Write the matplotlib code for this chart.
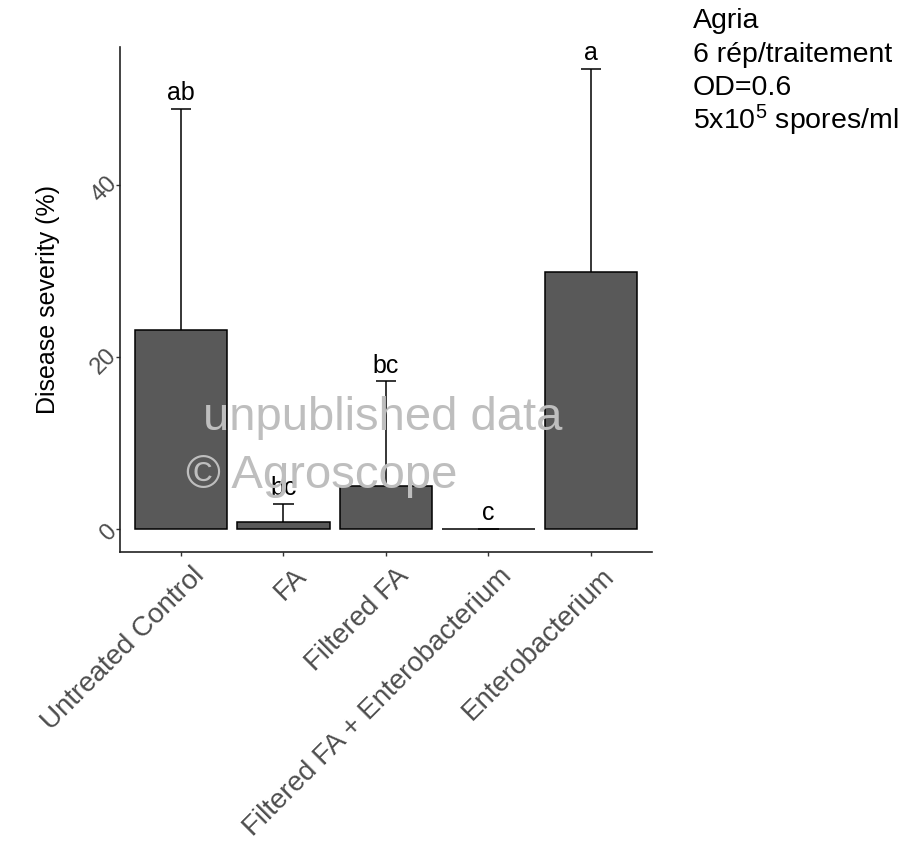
import matplotlib
matplotlib.use("Agg")
import matplotlib.pyplot as plt
import matplotlib.transforms as mtransforms
import numpy as np

matplotlib.rc('font', family='Liberation Sans')
matplotlib.rc('mathtext', fontset='custom', rm='Liberation Sans',
              it='Liberation Sans:italic', bf='Liberation Sans:bold')

## data
treatments = ["Untreated Control", "FA", "Filtered FA",
              "Filtered FA + Enterobacterium", "Enterobacterium"]
severity = [23.2, 0.85, 5.0, 0.0, 29.9]
err_up = [25.7, 2.05, 12.2, 0.0, 23.6]
letters = ["ab", "bc", "bc", "c", "a"]
yticks = [0, 20, 40]
notes = ["Agria", "6 rép/traitement", "OD=0.6", "5x10$^{5}$ spores/ml"]

fig = plt.figure(figsize=(9.05, 8.49), dpi=100)
ax = fig.add_axes([0.1326, 0.3502, 0.5878, 0.5948])

x = np.arange(len(treatments))
sev = np.array(severity)
top = sev + np.array(err_up)

ax.bar(x, sev, width=0.9, color='#595959', edgecolor='black', linewidth=1.1, zorder=2)
ax.vlines(x, sev, top, color='black', linewidth=1.1, zorder=3)
ax.hlines(top, x - 0.1, x + 0.1, color='black', linewidth=1.1, zorder=3)
for xi, t, lab in zip(x, top, letters):
    ax.text(xi, t + 1.0, lab, ha='center', va='baseline', fontsize=18, color='black', zorder=4)

ax.set_xlim(-0.595, 4.595)
ax.set_ylim(-2.64, 56.1)
ax.set_xticks(x)
ax.set_xticklabels(treatments, rotation=45, ha='right', va='top',
                   rotation_mode='anchor', fontsize=20, color='#4D4D4D')
ax.set_yticks(yticks)
ax.set_yticklabels([str(v) for v in yticks], rotation=45, ha='right', va='center',
                   fontsize=17, color='#4D4D4D')
ax.tick_params(axis='both', length=3, width=1.0, color='#333333')
ax.tick_params(axis='x', pad=5.0)
ax.tick_params(axis='y', pad=0.5)
xoff = mtransforms.ScaledTranslation(10 / 100., 0, fig.dpi_scale_trans)
for lab in ax.get_xticklabels():
    lab.set_transform(lab.get_transform() + xoff)
yoff = mtransforms.ScaledTranslation(6 / 100., -4 / 100., fig.dpi_scale_trans)
for lab in ax.get_yticklabels():
    lab.set_transform(lab.get_transform() + yoff)

for s in ['top', 'right']:
    ax.spines[s].set_visible(False)
for s in ['left', 'bottom']:
    ax.spines[s].set_linewidth(1.2)
    ax.spines[s].set_color('#222222')

ax.set_ylabel("Disease severity (%)", fontsize=18, color='black')
ax.yaxis.set_label_coords(-0.113, 0.5)

## watermark
fig.text(203 / 905., 1 - 430 / 849., "unpublished data", fontsize=34,
         color='#BEBEBE', ha='left', va='baseline', zorder=10)
fig.text(186 / 905., 1 - 488 / 849., "© Agroscope", fontsize=34,
         color='#BEBEBE', ha='left', va='baseline', zorder=10)

## notes top right
for i, line in enumerate(notes):
    fig.text(693 / 905., 1 - (28 + 33.7 * i) / 849., line, fontsize=20.5,
             color='black', ha='left', va='baseline')

plt.savefig("out.png", dpi=100)
